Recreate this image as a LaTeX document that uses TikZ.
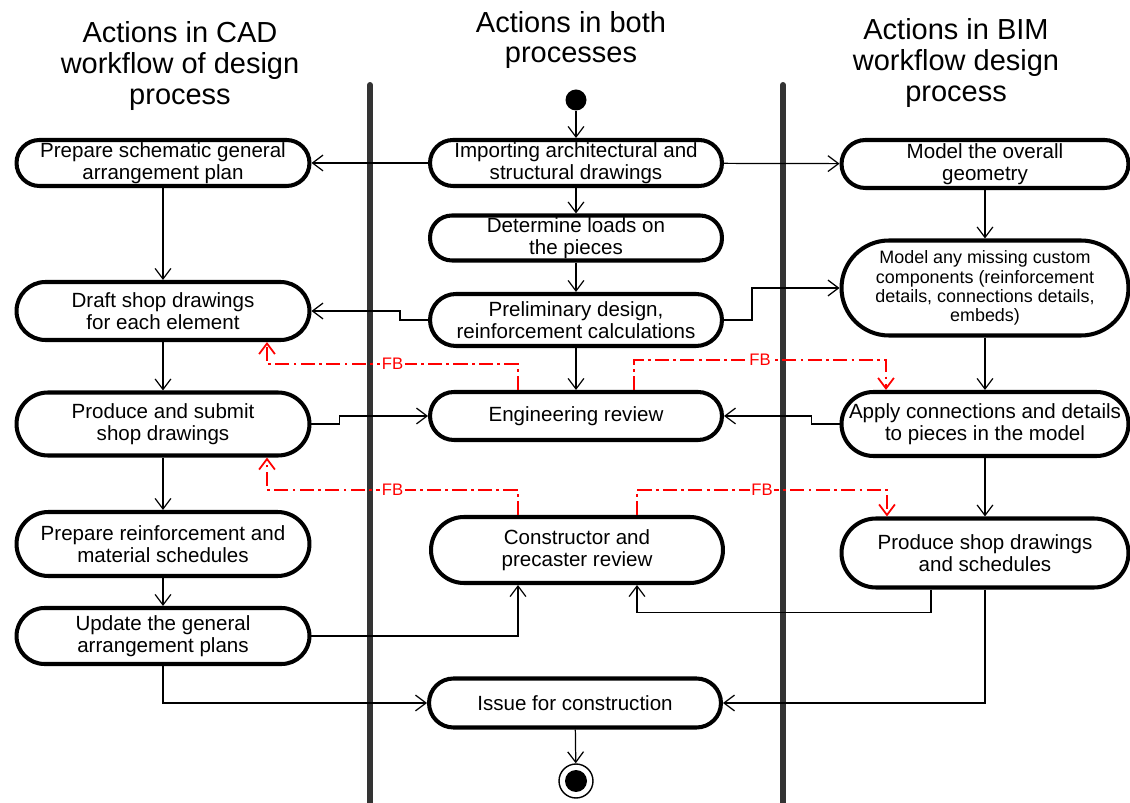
\documentclass[tikz,border=0pt]{standalone}
\usepackage{fontspec}
\setmainfont{Liberation Sans}
\usetikzlibrary{positioning}
\usetikzlibrary{arrows.meta}
\usetikzlibrary{calc}
\tikzset{basic/.style={draw,rectangle,line width=2.3pt,inner xsep=1pt,inner ysep=1pt,align=center,font=\fontsize{11.7}{12.7}\selectfont}}
\tikzset{cad/.style={basic,minimum height=#1,rounded corners=0.499*#1,minimum width=5.86cm}}
\tikzset{both/.style={basic,minimum height=#1,rounded corners=0.499*#1,minimum width=5.84cm}}
\tikzset{bim/.style={basic,minimum height=#1,rounded corners=0.499*#1,minimum width=5.74cm}}
\tikzset{header/.style={align=center,font=\fontsize{16.5}{17.6}\selectfont}}
\tikzset{lane/.style={line width=3.4pt,draw=black!80,line cap=round}}
\tikzset{fb/.style={draw=red,line width=1pt,dash pattern=on 8pt off 2.5pt on 1.5pt off 2.5pt}}
\tikzset{fblabel/.style={text=red,fill=white,inner sep=1pt,font=\fontsize{9.5}{10}\selectfont}}

\begin{document}
\begin{tikzpicture}[x=0.02cm,y=-0.02cm,line width=0.7pt,>={Straight Barb[length=6pt,width=9pt]}]
        \useasboundingbox (0,0) rectangle (1130,803);
        % swimlanes
        \node[header] (hcad) at (180,66) {Actions in CAD\\workflow of design\\process};
        \node[header] (hboth) at (571,40) {Actions in both\\processes};
        \node[header] (hbim) at (956,63) {Actions in BIM\\workflow design\\process};
        \draw[lane] (370,85) -- (370,805);
        \draw[lane] (783,85) -- (783,805);
        % both processes
        \node[circle,fill,minimum size=0.42cm,inner sep=0] (start) at (576,100) {};
        \node[both=0.92cm] (m1) at (576,163) {Importing architectural and\\structural drawings};
        \node[both=0.88cm] (m2) at (576,238) {Determine loads on\\the pieces};
        \node[both=1.04cm] (m3) at (576,320) {Preliminary design,\\reinforcement calculations};
        \node[both=0.96cm] (m4) at (576,416) {Engineering review};
        \node[both=1.32cm] (m5) at (577,550) {Constructor and\\precaster review};
        \node[both=0.98cm] (m6) at (575,703) {Issue for construction};
        \node[circle,draw,line width=0.8pt,minimum size=0.68cm,inner sep=0] (end) at (576,781) {};
        \node[circle,fill,minimum size=0.44cm,inner sep=0] (endin) at (end) {};
        % CAD workflow
        \node[cad=0.92cm] (l1) at (163,163) {Prepare schematic general\\arrangement plan};
        \node[cad=1.16cm] (l2) at (163,311) {Draft shop drawings\\for each element};
        \node[cad=1.26cm] (l3) at (163,424) {Produce and submit\\shop drawings};
        \node[cad=1.28cm] (l4) at (163,544) {Prepare reinforcement and\\material schedules};
        \node[cad=1.12cm] (l5) at (163,636) {Update the general\\arrangement plans};
        % BIM workflow
        \node[bim=0.96cm] (r1) at (985,164) {Model the overall\\geometry};
        \node[bim=1.9cm,font=\fontsize{10.2}{10.9}\selectfont] (r2) at (985,288) {Model any missing custom\\components (reinforcement\\details, connections details,\\embeds)};
        \node[bim=1.28cm] (r3) at (985,424) {Apply connections and details\\to pieces in the model};
        \node[bim=1.38cm] (r4) at (985,553) {Produce shop drawings\\and schedules};
            \path[draw,->] (start) -- (m1);
            \path[draw,->] (m1) -- (m2);
            \path[draw,->] (m2) -- (m3);
            \path[draw,->] (m3) -- (m4);
            \path[draw,->] (m6) -- (end);
            \path[draw,->] (m1) -- (l1);
            \path[draw,->] (m1) -- (r1);
            \path[draw,->] (l1) -- (l2);
            \path[draw,->] (l2) -- (l3);
            \path[draw,->] (l3) -- (l4);
            \path[draw,->] (l4) -- (l5);
            \path[draw,->] (r1) -- (r2);
            \path[draw,->] (r2) -- (r3);
            \path[draw,->] (r3) -- (r4);
            \path[draw,->] (m3.west) -- ++(-28,0) |- (l2.east);
            \path[draw,->] (m3.east) -- ++(28,0) |- (r2.west);
            \path[draw,->] (l3.east) -- ++(28,0) |- (m4.west);
            \path[draw,->] (r3.west) -- ++(-28,0) |- (m4.east);
            \path[draw,->] (l5.east) -| ($(m5.south)+(-59,0)$);
            \path[draw,->] ($(r4.south)+(-54,0)$) -- ++(0,23) -| ($(m5.south)+(60,0)$);
            \path[draw,->] (l5.south) |- (m6.west);
            \path[draw,->] (r4.south) |- (m6.east);
        % feedback loops
        \path[fb,->] ($(m4.north)+(-58,0)$) |- node[fblabel,pos=0.75] (fb1) {FB} ($(l2.south)+(104,22)$) -- ($(l2.south)+(104,0)$);
        \path[fb,->] ($(m4.north)+(58,0)$) |- node[fblabel,pos=0.75] (fb2) {FB} ($(r3.north)+(-99,-30)$) -- ($(r3.north)+(-99,0)$);
        \path[fb,->] ($(m5.north)+(-59,0)$) |- node[fblabel,pos=0.75] (fb3) {FB} ($(l3.south)+(104,32.5)$) -- ($(l3.south)+(104,0)$);
        \path[fb,->] ($(m5.north)+(60,0)$) |- node[fblabel,pos=0.75] (fb4) {FB} ($(r4.north)+(-98,-26.5)$) -- ($(r4.north)+(-98,0)$);
\end{tikzpicture}
\end{document}
